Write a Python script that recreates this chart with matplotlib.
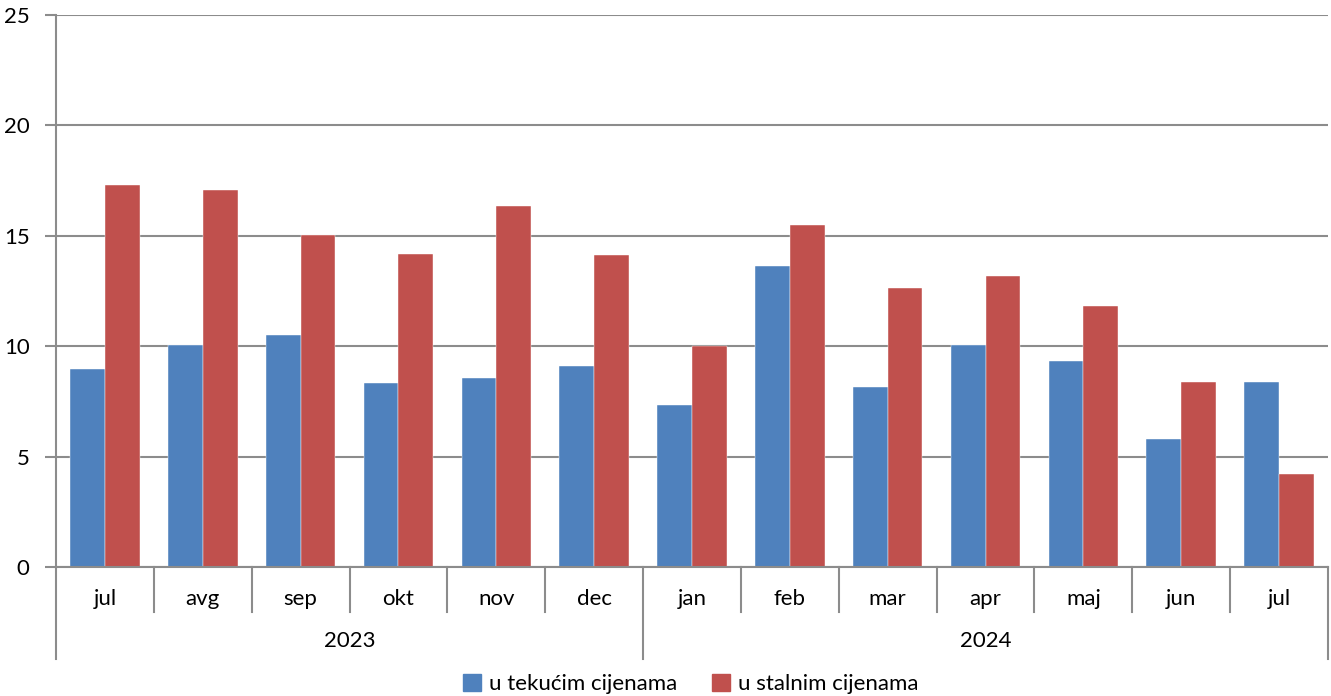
import matplotlib.pyplot as plt
import matplotlib.transforms as mtransforms
from matplotlib.patches import Patch
import numpy as np

months = ['jul', 'avg', 'sep', 'okt', 'nov', 'dec', 'jan', 'feb', 'mar', 'apr', 'maj', 'jun', 'jul']
years = ['2023', '2024']
year_counts = [6, 7]
tekuce = [8.97, 10.05, 10.5, 8.33, 8.56, 9.1, 7.34, 13.63, 8.15, 10.05, 9.33, 5.8, 8.38]
stalne = [17.3, 17.07, 15.04, 14.18, 16.35, 14.13, 10.0, 15.49, 12.64, 13.18, 11.82, 8.38, 4.21]

plt.rcParams['font.family'] = ['Lato', 'DejaVu Sans']
blue = '#4F81BD'
red = '#C0504D'
gridc = '#8c8c8c'
fs = 16

fig = plt.figure(figsize=(13.31, 6.96), dpi=100)
ax = fig.add_axes([56/1331, 1-567/696, (1328-56)/1331, (567-15)/696])

x = np.arange(len(months))
w = 0.355
ax.bar(x - w/2, tekuce, w, color=blue, edgecolor='white', linewidth=0.3, zorder=3)
ax.bar(x + w/2, stalne, w, color=red, edgecolor='white', linewidth=0.3, zorder=3)

ax.set_xlim(-0.5, len(months) - 0.5)
ax.set_ylim(0, 25)
ax.set_yticks([0, 5, 10, 15, 20, 25])
ax.yaxis.grid(True, color=gridc, linewidth=1.5, zorder=0)
ax.set_axisbelow(True)
for s in ['top', 'right', 'bottom']:
    ax.spines[s].set_visible(False)
ax.spines['left'].set_color(gridc)
ax.spines['left'].set_linewidth(1.5)
ax.tick_params(axis='y', length=8, width=1.5, color=gridc, labelsize=fs, pad=11)
ax.set_xticks([])

# bottom axis line and category separators
tr = mtransforms.blended_transform_factory(ax.transData, ax.transAxes)
ax.plot([-0.5, len(months) - 0.5], [0, 0], transform=tr, color=gridc, lw=1.5, clip_on=False, zorder=4)
sep_bottom = -(612-567)/(567-15)
year_bottom = -(659-567)/(567-15)
year_edges = np.concatenate([[0], np.cumsum(year_counts)]) - 0.5
for i in range(len(months) + 1):
    xb = i - 0.5
    yb = year_bottom if xb in year_edges else sep_bottom
    ax.plot([xb, xb], [0, yb], transform=tr, color=gridc, lw=1.5, clip_on=False)
for i, m in enumerate(months):
    ax.text(i, -(599-567)/(567-15), m, transform=tr, ha='center', va='center', fontsize=fs)
for j, yr in enumerate(years):
    ax.text((year_edges[j] + year_edges[j+1]) / 2, -(641-567)/(567-15), yr, transform=tr,
            ha='center', va='center', fontsize=fs)

handles = [Patch(color=blue, label='u tekućim cijenama'), Patch(color=red, label='u stalnim cijenama')]
fig.legend(handles=handles, loc='center', bbox_to_anchor=(0.519, 1-684/696), ncol=2, frameon=False,
           fontsize=fs, handlelength=0.8, handleheight=0.8, handletextpad=0.35, columnspacing=1.6)

fig.savefig('out.png', dpi=100)
